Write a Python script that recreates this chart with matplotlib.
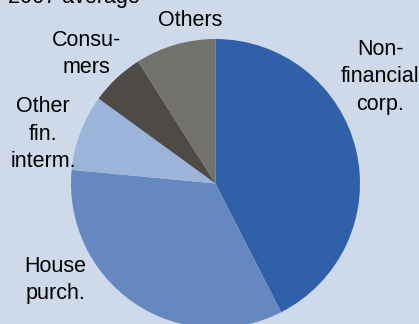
import matplotlib.pyplot as plt

# shares of loans, 2007 average (%), clockwise from 12 o'clock
sectors = ["Non-\nfinancial\ncorp.", "House\npurch.", "Other\nfin.\ninterm.", "Consu-\nmers", "Others"]
shares = [42.5, 34.0, 8.5, 6.0, 9.0]
colors = ["#3060AA", "#6588C0", "#9CB3DA", "#4E4A48", "#73716E"]

# label centres in pixel coordinates (x, y from top)
label_pos = [(380, 77), (55, 280), (43, 134), (86, 54), (190, 21)]

bg = "#CED9EA"
W, H = 419, 324

fig = plt.figure(figsize=(W / 100, H / 100), dpi=100, facecolor=bg)
ax = fig.add_axes([0, 0, 1, 1])
ax.set_facecolor(bg)

ax.pie(shares, colors=colors, startangle=90, counterclock=False,
       center=(215.5, H - 183.5), radius=144.5,
       wedgeprops=dict(linewidth=0), frame=True)
ax.set_xlim(0, W)
ax.set_ylim(0, H)
ax.axis("off")

for name, (x, y) in zip(sectors, label_pos):
    ax.text(x, H - y, name, ha="center", va="center", fontsize=15.5,
            family="Liberation Sans", linespacing=1.4, multialignment="center")

ax.text(8, H - 3, "2007 average", ha="left", va="baseline", fontsize=15.5,
        family="Liberation Sans")

fig.savefig("out.png", dpi=100, facecolor=bg)
